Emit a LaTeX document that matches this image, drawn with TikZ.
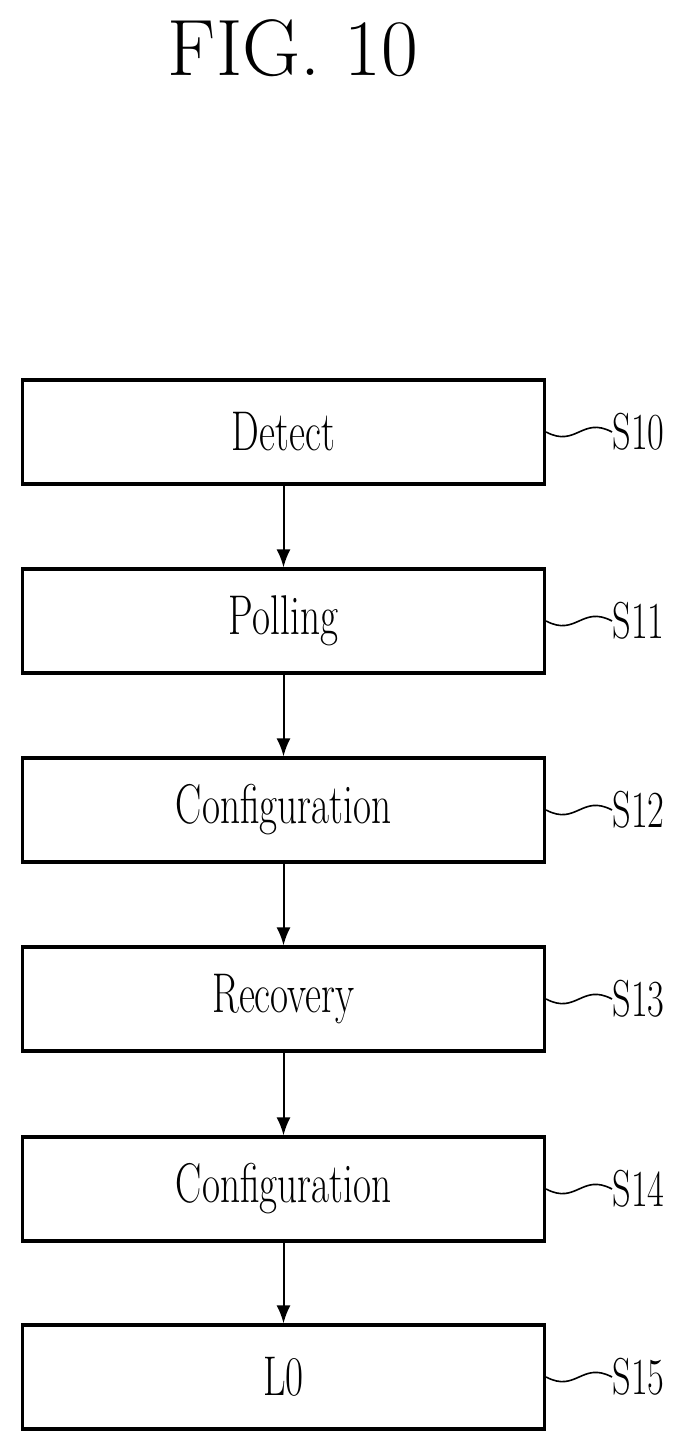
\documentclass[tikz,border=0pt]{standalone}
\usetikzlibrary{arrows.meta}
\newcommand{\narrow}[1]{\scalebox{0.7}[1]{#1}}
\tikzset{
  stage/.style={draw, line width=1.6pt, minimum width=261pt, minimum height=52pt, font=\fontsize{28}{28}\selectfont},
  tag/.style={anchor=west, inner sep=0pt, font=\fontsize{26}{26}\selectfont},
  flow/.style={-{Latex[length=9pt,width=7pt]}, line width=1pt},
}
\begin{document}
\begin{tikzpicture}[x=0.5pt,y=-0.5pt]
  \useasboundingbox (0,0) rectangle (692,1454);
  \node[font=\fontsize{40}{40}\selectfont] (title) at (293,48) {FIG. 10};
  \node[stage] (det) at (283.5,432) {\narrow{Detect}};
  \node[stage] (pol) at (283.5,621) {\narrow{Polling}};
  \node[stage] (cf1) at (283.5,810) {\narrow{Configuration}};
  \node[stage] (rec) at (283.5,999) {\narrow{Recovery}};
  \node[stage] (cf2) at (283.5,1189) {\narrow{Configuration}};
  \node[stage] (lz) at (283.5,1377) {\narrow{L0}};
  \node[tag] (s10) at (612,432) {\narrow{S10}};
  \node[tag] (s11) at (612,621) {\narrow{S11}};
  \node[tag] (s12) at (612,810) {\narrow{S12}};
  \node[tag] (s13) at (612,999) {\narrow{S13}};
  \node[tag] (s14) at (612,1189) {\narrow{S14}};
  \node[tag] (s15) at (612,1377) {\narrow{S15}};
  \draw[flow] (det) -- (pol);
  \draw[flow] (pol) -- (cf1);
  \draw[flow] (cf1) -- (rec);
  \draw[flow] (rec) -- (cf2);
  \draw[flow] (cf2) -- (lz);
  \foreach \b/\s in {det/s10,pol/s11,cf1/s12,rec/s13,cf2/s14,lz/s15}
    \draw[line width=0.8pt] (\b.east) .. controls +(15pt,-8pt) and +(-15pt,8pt) .. (\s.west);
\end{tikzpicture}
\end{document}
